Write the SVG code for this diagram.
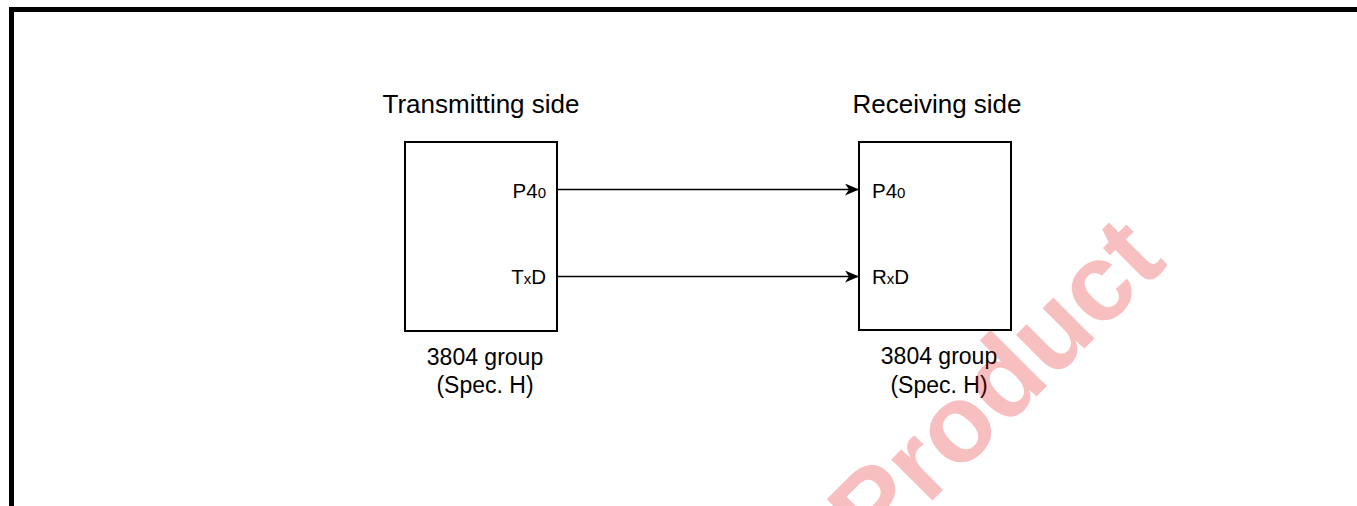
<svg xmlns="http://www.w3.org/2000/svg" width="1357" height="506" viewBox="0 0 1357 506">
<defs>
<style>
text{font-family:"Liberation Sans",Arial,sans-serif;fill:#000}
.title{font-size:26px;text-anchor:middle}
.pin{font-size:20.5px}
.sm{font-size:15px}
.grp{font-size:23px;text-anchor:middle}
.box{fill:none;stroke:#000;stroke-width:2}
.wire{stroke:#000;stroke-width:1.3;fill:none}
.wm{font-family:"Liberation Sans",Arial,sans-serif;font-weight:bold;font-size:110px;fill:#e00000;fill-opacity:0.25}
</style>
<marker id="arr" viewBox="0 0 14 12" refX="14" refY="6" markerWidth="14" markerHeight="12" markerUnits="userSpaceOnUse" orient="auto">
<path d="M0,0 L14,6 L0,12 L4,6 z" fill="#000"/>
</marker>
</defs>
<rect width="1357" height="506" fill="#fff"/>
<rect id="frame" x="11.5" y="9.5" width="1400" height="600" fill="none" stroke="#000" stroke-width="5"/>
<g id="tx">
<text class="title" x="481" y="113">Transmitting side</text>
<rect class="box" x="405" y="142" width="152" height="189"/>
<text class="pin" x="546" y="198" text-anchor="end">P4<tspan class="sm">0</tspan></text>
<text class="pin" x="546" y="284" text-anchor="end">T<tspan class="sm">x</tspan>D</text>
<text class="grp" x="485" y="365">3804 group</text>
<text class="grp" x="485" y="393">(Spec. H)</text>
</g>
<g id="rx">
<text class="title" x="937" y="113">Receiving side</text>
<rect class="box" x="859" y="142" width="152" height="188"/>
<text class="pin" x="872" y="198">P4<tspan class="sm">0</tspan></text>
<text class="pin" x="872" y="284">R<tspan class="sm">x</tspan>D</text>
<text class="grp" x="939" y="364">3804 group</text>
<text class="grp" x="939" y="393">(Spec. H)</text>
</g>
<g id="connectors">
<line class="wire" x1="557" y1="189.5" x2="859" y2="189.5" marker-end="url(#arr)"/>
<line class="wire" x1="557" y1="276.5" x2="859" y2="276.5" marker-end="url(#arr)"/>
</g>
<text class="wm" x="875" y="558" transform="rotate(-45 875 558)">Product</text>
</svg>
